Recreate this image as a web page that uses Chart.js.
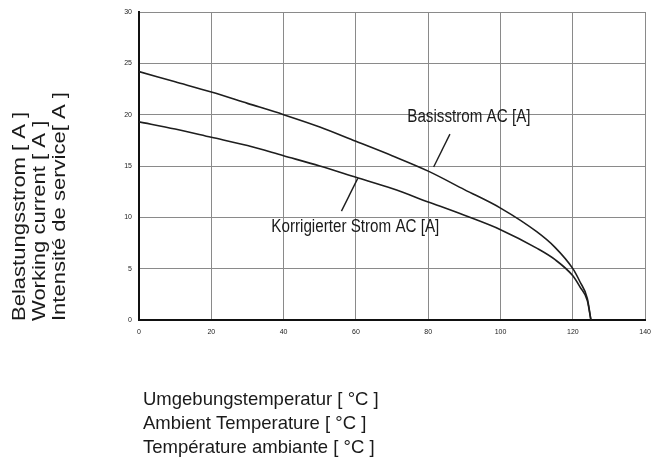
<!DOCTYPE html>
<html>
<head>
<meta charset="utf-8">
<script src="https://cdn.jsdelivr.net/npm/chart.js@4/dist/chart.umd.min.js"></script>
<style>
    html, body { margin: 0; padding: 0; background: #fff; }
</style>
</head>
<body>
<canvas id="currentChart" width="659" height="459"></canvas>
<script>
// ambient temperature (°C) and the two current curves (A)
const temps      = [0, 10, 20, 30, 40, 50, 60, 70, 80, 90, 100, 110, 115, 120, 122, 124, 125];
const basisstrom = [24.2, 23.2, 22.2, 21.1, 20.0, 18.8, 17.4, 16.0, 14.5, 12.7, 10.9, 8.6, 7.1, 5.0, 3.7, 2.1, 0];
const korrigiert = [19.3, 18.6, 17.8, 17.0, 16.0, 15.0, 13.9, 12.8, 11.5, 10.2, 8.8, 7.0, 5.9, 4.3, 3.2, 1.9, 0];

// axis ticks
const xTicks = [0, 20, 40, 60, 80, 100, 120, 140];
const yTicks = [0, 5, 10, 15, 20, 25, 30];

// leader lines for the two curve labels (data coords)
const basisLeaderX = [86.0, 81.5];
const basisLeaderY = [18.1, 14.9];
const korrLeaderX  = [56.0, 60.5];
const korrLeaderY  = [10.6, 13.8];

// label anchors (left edge / baseline, data coords)
const basisLabel = { text: 'Basisstrom AC [A]', x: 74.2, y: 19.3 };
const korrLabel  = { text: 'Korrigierter Strom AC [A]', x: 36.6, y: 8.6 };

const xTitle = ['Umgebungstemperatur [ °C ]', 'Ambient Temperature [ °C ]', 'Température ambiante [ °C ]'];
const yTitle = ['Belastungsstrom [ A ]', 'Working current [ A ]', 'Intensité de service[ A ]'];

const toPoints = (xs, ys) => xs.map((x, i) => ({ x: x, y: ys[i] }));

// draws axis titles and the curve labels
const textPlugin = {
    id: 'textPlugin',
    afterDraw(chart) {
        const ctx = chart.ctx;
        const xs = chart.scales.x, ys = chart.scales.y;
        ctx.save();
        ctx.fillStyle = '#1a1a1a';
        ctx.textBaseline = 'alphabetic';
        ctx.textAlign = 'left';

        // curve labels, slightly condensed
        ctx.font = '18px "Liberation Sans", Arial, sans-serif';
        [basisLabel, korrLabel].forEach(l => {
            ctx.save();
            ctx.translate(xs.getPixelForValue(l.x), ys.getPixelForValue(l.y));
            ctx.scale(0.844, 1);
            ctx.fillText(l.text, 0, 0);
            ctx.restore();
        });

        // x axis title
        ctx.font = '18.5px "Liberation Sans", Arial, sans-serif';
        xTitle.forEach((t, i) => {
            ctx.fillText(t, chart.chartArea.left + 4, 405 + i * 24);
        });

        // y axis title (rotated, bottom aligned)
        yTitle.forEach((t, i) => {
            ctx.save();
            ctx.translate(25 + i * 20, 321);
            ctx.rotate(-Math.PI / 2);
            ctx.scale(1.19, 1);
            ctx.fillText(t, 0, 0);
            ctx.restore();
        });
        ctx.restore();
    }
};

const curveStyle = {
    borderColor: '#1e1e1e',
    borderWidth: 1.6,
    pointRadius: 0,
    fill: false,
    cubicInterpolationMode: 'monotone'
};
const leaderStyle = {
    borderColor: '#1e1e1e',
    borderWidth: 1.4,
    pointRadius: 0,
    fill: false,
    tension: 0
};

new Chart(document.getElementById('currentChart'), {
    type: 'line',
    data: {
        datasets: [
            Object.assign({ label: 'Basisstrom AC [A]', data: toPoints(temps, basisstrom) }, curveStyle),
            Object.assign({ label: 'Korrigierter Strom AC [A]', data: toPoints(temps, korrigiert) }, curveStyle),
            Object.assign({ label: 'basis leader', data: toPoints(basisLeaderX, basisLeaderY) }, leaderStyle),
            Object.assign({ label: 'korr leader', data: toPoints(korrLeaderX, korrLeaderY) }, leaderStyle)
        ]
    },
    options: {
        responsive: false,
        animation: false,
        devicePixelRatio: 1,
        layout: { padding: { top: 12, right: 4, left: 0, bottom: 0 } },
        plugins: {
            legend: { display: false },
            tooltip: { enabled: false }
        },
        scales: {
            x: {
                type: 'linear',
                min: xTicks[0],
                max: xTicks[xTicks.length - 1],
                afterBuildTicks: s => { s.ticks = xTicks.map(v => ({ value: v })); },
                afterFit: s => { s.height = 139; },
                ticks: {
                    padding: 8,
                    color: '#222',
                    font: { size: 7, family: '"Liberation Sans", Arial, sans-serif' }
                },
                grid: { color: '#8a8a8a', lineWidth: 1, drawTicks: false },
                border: { color: '#111', width: 2 }
            },
            y: {
                type: 'linear',
                min: yTicks[0],
                max: yTicks[yTicks.length - 1],
                afterBuildTicks: s => { s.ticks = yTicks.map(v => ({ value: v })); },
                afterFit: s => { s.width = 139; },
                ticks: {
                    padding: 7,
                    color: '#222',
                    font: { size: 7, family: '"Liberation Sans", Arial, sans-serif' }
                },
                grid: { color: '#8a8a8a', lineWidth: 1, drawTicks: false },
                border: { color: '#111', width: 2 }
            }
        }
    },
    plugins: [textPlugin]
});
</script>
</body>
</html>
